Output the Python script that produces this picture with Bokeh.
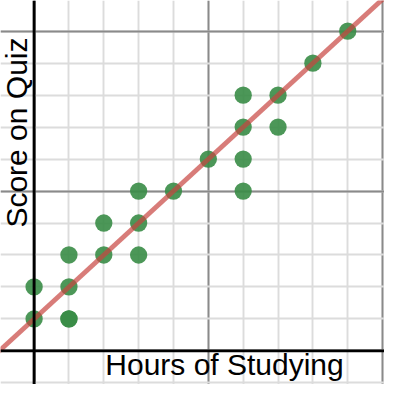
from bokeh.plotting import figure
from bokeh.models import Range1d, Span, Grid, SingleIntervalTicker, Label, ColumnDataSource
from bokeh.embed import file_html
from bokeh.resources import INLINE

# data
hours = [0, 0, 1, 1, 1, 1, 2, 2, 3, 3, 3, 4, 5, 6, 6, 6, 6, 7, 7, 8, 9]
scores = [1, 2, 1, 1, 2, 3, 3, 4, 3, 4, 5, 5, 6, 5, 6, 7, 8, 7, 8, 9, 10]
fit_slope = 1.0
fit_intercept = 1.0
x_label = "Hours of Studying"
y_label = "Score on Quiz"

x0, x1 = -0.964, 10.055
y0, y1 = -1.051, 10.96

p = figure(width=384, height=384, x_range=Range1d(x0, x1), y_range=Range1d(y0, y1),
           x_axis_type=None, y_axis_type=None, min_border=0,
           toolbar_location=None, output_backend="svg", outline_line_color=None)

for dim in (0, 1):
    g = Grid(dimension=dim, ticker=SingleIntervalTicker(interval=5, num_minor_ticks=5),
             grid_line_color="#8a8a8a", grid_line_width=1.9,
             minor_grid_line_color="#dcdcdc", minor_grid_line_width=1.9)
    p.add_layout(g, "center")

p.add_layout(Span(location=0, dimension="height", line_color="black", line_width=2.9))
p.add_layout(Span(location=0, dimension="width", line_color="black", line_width=2.9))

src = ColumnDataSource(dict(x=hours, y=scores))
p.scatter("x", "y", source=src, size=17.3, fill_color="#388c46", fill_alpha=0.9, line_color=None)

fx = [x0 - 1, x1 + 1]
fy = [fit_slope * v + fit_intercept for v in fx]
p.line(fx, fy, line_color="#c74440", line_alpha=0.7, line_width=4.8)

p.add_layout(Label(x=5.464, y=-0.441, text=x_label, text_font="Liberation Sans",
                   text_font_size="30px", text_color="black",
                   text_align="center", text_baseline="alphabetic"))
p.add_layout(Label(x=-0.519, y=6.83, text=y_label, text_font="Liberation Sans",
                   text_font_size="30px", text_color="black", angle=1.5707963,
                   text_align="center", text_baseline="alphabetic"))

open("out.html", "w").write(file_html(p, INLINE))
